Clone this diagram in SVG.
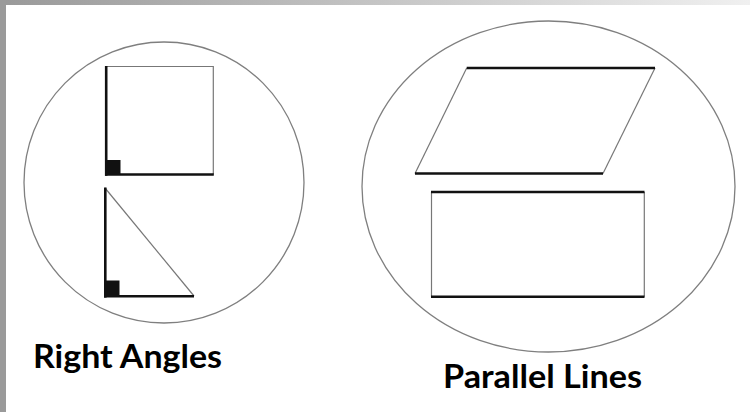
<svg xmlns="http://www.w3.org/2000/svg" width="750" height="412" viewBox="0 0 750 412">
  <defs>
    <linearGradient id="topbar" x1="0" y1="0" x2="1" y2="0">
      <stop offset="0" stop-color="#999999"/>
      <stop offset="1" stop-color="#f0f0f0"/>
    </linearGradient>
    <style>
      .ring { fill: none; stroke: #7f7f7f; stroke-width: 1.3; }
      .thin { fill: none; stroke: #777777; stroke-width: 1.2; }
      .thick { fill: none; stroke: #111111; stroke-width: 2.6; }
      .mark { fill: #111111; }
      .label { font-family: Lato, "Open Sans", "Liberation Sans", sans-serif; font-weight: bold; font-size: 32px; fill: #000000; }
    </style>
  </defs>
  <rect x="0" y="0" width="750" height="412" fill="#ffffff"/>
  <rect x="0" y="0" width="750" height="5" fill="url(#topbar)"/>
  <rect x="0" y="0" width="6" height="412" fill="#9a9a9a"/>

  <g id="right-angles">
    <ellipse class="ring" cx="164" cy="182.5" rx="140" ry="140.5"/>
    <g id="square">
      <path class="thin" d="M105 66.5 H213.3 V174.5"/>
      <line class="thick" x1="106.2" y1="66" x2="106.2" y2="175.8"/>
      <line class="thick" x1="105" y1="174.5" x2="213.8" y2="174.5"/>
      <rect class="mark" x="105" y="160" width="15.5" height="15"/>
    </g>
    <g id="triangle">
      <line class="thin" x1="105" y1="188" x2="194" y2="296"/>
      <line class="thick" x1="105.3" y1="187.5" x2="105.3" y2="297.6"/>
      <line class="thick" x1="104" y1="296.3" x2="194" y2="296.3"/>
      <rect class="mark" x="104" y="280.5" width="15.5" height="16"/>
    </g>
    <text class="label" x="33" y="368" textLength="189" lengthAdjust="spacingAndGlyphs">Right Angles</text>
  </g>

  <g id="parallel-lines">
    <ellipse class="ring" cx="548.5" cy="186.5" rx="186.5" ry="165.5"/>
    <g id="parallelogram">
      <line class="thin" x1="466.7" y1="68" x2="415" y2="173.5"/>
      <line class="thin" x1="655" y1="68" x2="603" y2="173.5"/>
      <line class="thick" x1="466.7" y1="68" x2="655" y2="68"/>
      <line class="thick" x1="415" y1="173.5" x2="603" y2="173.5"/>
    </g>
    <g id="rectangle">
      <line class="thin" x1="431.5" y1="192" x2="431.5" y2="296.7"/>
      <line class="thin" x1="644.3" y1="192" x2="644.3" y2="296.7"/>
      <line class="thick" x1="431" y1="192" x2="644.5" y2="192"/>
      <line class="thick" x1="431" y1="296.7" x2="644.5" y2="296.7"/>
    </g>
    <text class="label" x="443" y="388" textLength="199" lengthAdjust="spacingAndGlyphs">Parallel Lines</text>
  </g>
</svg>
